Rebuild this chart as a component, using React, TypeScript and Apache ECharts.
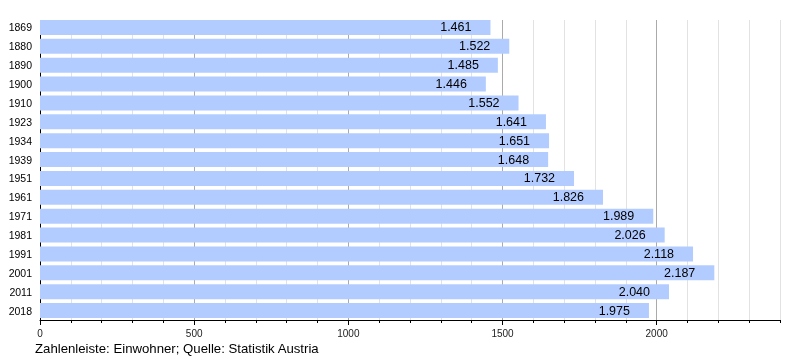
import React, { useEffect, useRef } from "react";
import * as echarts from "echarts";

const years = ["1869", "1880", "1890", "1900", "1910", "1923", "1934", "1939", "1951", "1961", "1971", "1981", "1991", "2001", "2011", "2018"];
const population = [1461, 1522, 1485, 1446, 1552, 1641, 1651, 1648, 1732, 1826, 1989, 2026, 2118, 2187, 2040, 1975];
const footerText = "Zahlenleiste: Einwohner; Quelle: Statistik Austria";

const fmt = (v: number) => `${Math.floor(v / 1000)}.${String(v % 1000).padStart(3, "0")}`;

export default function App() {
  const ref = useRef<HTMLDivElement>(null);
  useEffect(() => {
    if (!ref.current) return;
    const chart = echarts.init(ref.current, undefined, { renderer: "svg" });
    const font = "Liberation Sans, Arial, sans-serif";
    chart.setOption({
      animation: false,
      textStyle: { fontFamily: font },
      grid: { left: 40, right: 20, top: 18, bottom: 40 },
      xAxis: [
        {
          type: "value",
          min: 0,
          max: 2400,
          interval: 500,
          axisLine: { show: true, lineStyle: { color: "#000", width: 1 } },
          axisTick: { show: true, length: 5, lineStyle: { color: "#000" } },
          axisLabel: {
            color: "#222",
            fontSize: 10,
            fontFamily: font,
            showMaxLabel: false,
            margin: 8,
            formatter: (v: number) => String(v),
          },
          splitLine: { show: false },
        },
        {
          type: "value",
          min: 0,
          max: 2400,
          interval: 100,
          position: "bottom",
          axisLine: { show: false },
          axisTick: { show: true, length: 3, lineStyle: { color: "#000" } },
          axisLabel: { show: false },
          splitLine: {
            show: true,
            lineStyle: { color: ["#aaaaaa", "#e2e2e2", "#e2e2e2", "#e2e2e2", "#e2e2e2"], width: 1 },
          },
        },
      ],
      yAxis: {
        type: "category",
        data: years,
        inverse: true,
        axisLine: { show: true, lineStyle: { color: "#000", width: 1 } },
        axisTick: { show: false },
        axisLabel: { color: "#000", fontSize: 10.5, fontFamily: font, margin: 8 },
      },
      series: [
        {
          type: "bar",
          xAxisIndex: 0,
          data: population,
          barWidth: 15,
          itemStyle: { color: "#b3ccff" },
          label: {
            show: true,
            position: "insideRight",
            distance: 19,
            color: "#000",
            fontSize: 12.5,
            fontFamily: font,
            formatter: (p: any) => fmt(p.value),
          },
        },
      ],
      graphic: [
        {
          type: "rect",
          shape: { x: 38, y: 14, width: 760, height: 5.9 },
          style: { fill: "#fff" },
          z: 100,
        },
        {
          type: "text",
          left: 35,
          top: 342,
          style: { text: footerText, fill: "#000", fontSize: 13.2, fontFamily: font },
          z: 100,
        },
      ],
    });
    return () => chart.dispose();
  }, []);
  return <div ref={ref} style={{ position: "fixed", left: 0, top: 0, width: 800, height: 360 }} />;
}
